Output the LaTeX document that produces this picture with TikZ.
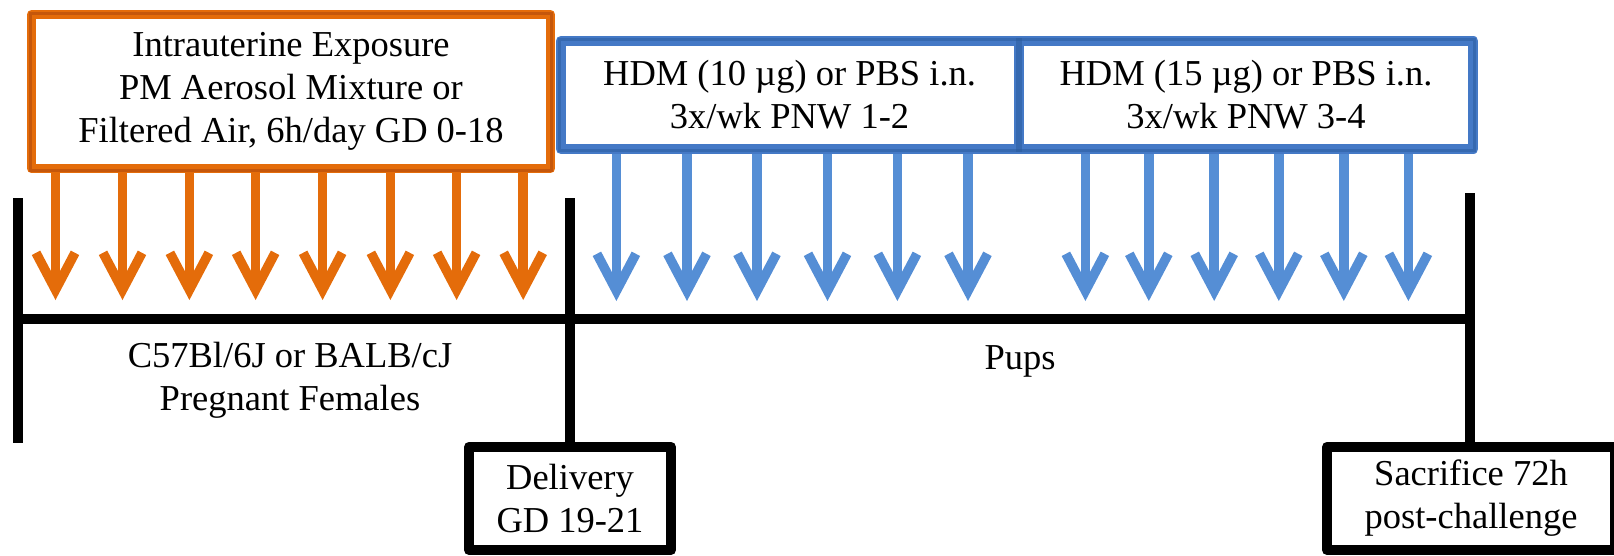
\documentclass[tikz,border=0pt]{standalone}
\usepackage{fontspec}
\setmainfont{Liberation Serif}
\newfontfamily\labelserif{Liberation Serif}
\usetikzlibrary{arrows.meta,calc,backgrounds}
\definecolor{orangeC}{HTML}{E46C0A}
\definecolor{orangeD}{HTML}{A8440C}
\definecolor{blueA}{HTML}{558ED5}
\definecolor{blueB}{HTML}{4479C6}
\definecolor{blueD}{HTML}{2A5A9C}
\begin{document}
\begin{tikzpicture}[x=1pt,y=-1pt,
  lbl/.style={font=\labelserif\fontsize{36.5}{43}\selectfont, align=center, inner sep=0pt},
  boxbase/.style={lbl, fill=white, line join=round, minimum height=108pt},
  obox/.style={boxbase, draw=orangeC, line width=9.4pt},
  bbox/.style={boxbase, draw=blueB, line width=10pt},
  kbox/.style={boxbase, draw=black, line width=10pt},
  oshade/.style={draw=orangeD, line width=3pt, opacity=0.5},
  bshade/.style={draw=blueD, line width=3pt, opacity=0.5},
  oarr/.style={draw=orangeC, line width=9.5pt, -{Straight Barb[length=37pt, width=39pt]}},
  barr/.style={draw=blueA, line width=9.5pt, -{Straight Barb[length=37pt, width=39pt]}},
  tline/.style={draw=black, line width=10pt}]
\useasboundingbox (0,0) rectangle (1614,555);

% exposure boxes
\node[obox, minimum width=518.8pt, minimum height=153.9pt] (expo) at (291,91.6)
  {Intrauterine Exposure\\PM Aerosol Mixture or\\Filtered Air, 6h/day GD 0-18};
\node[bbox, minimum width=458pt] (hdmA) at (789.6,95)
  {HDM (10 µg) or PBS i.n.\\3x/wk PNW 1-2};
\node[bbox, minimum width=454.8pt] (hdmB) at (1246,95)
  {HDM (15 µg) or PBS i.n.\\3x/wk PNW 3-4};

% darker inner rims of the coloured frames
\draw[oshade] ($(expo.north west)+(3.2,3.2)$) rectangle ($(expo.south east)+(-3.2,-3.2)$);
\draw[bshade] ($(hdmA.north west)+(3.5,3.5)$) rectangle ($(hdmA.south east)+(-3.5,-3.5)$);
\draw[bshade] ($(hdmB.north west)+(3.5,3.5)$) rectangle ($(hdmB.south east)+(-3.5,-3.5)$);

% exposure arrows, behind the boxes
\begin{scope}[on background layer]
\foreach \x [count=\i] in {55.5,122.5,189.4,255.6,322.6,390.4,456.6,523.2} {
  \coordinate (ot\i) at (\x,300);
  \draw[oarr] (ot\i |- expo.south) -- (ot\i);
}
\foreach \x [count=\i] in {616.4,687,757,827.5,897.4,968} {
  \coordinate (at\i) at (\x,301);
  \draw[barr] (at\i |- hdmA.south) -- (at\i);
}
\foreach \x [count=\i] in {1085.4,1148.8,1214.2,1278.8,1343.8,1408.4} {
  \coordinate (bt\i) at (\x,301);
  \draw[barr] (bt\i |- hdmB.south) -- (bt\i);
}
\end{scope}

% milestone boxes
\node[kbox, minimum width=202pt, minimum height=103.3pt] (deliv) at (570,498.4)
  {Delivery\\GD 19-21};
\node[kbox, minimum width=288pt, minimum height=103.3pt] (sacr) at (1471,498.4)
  {Sacrifice 72h\\post-challenge};

% timeline
\coordinate (lt) at (18,198);
\coordinate (lb) at (18,443);
\coordinate (mt) at (570,198);
\coordinate (rt) at (1470,193);
\coordinate (bl) at (13,319);
\coordinate (br) at (1470,319);
\draw[tline] (lt) -- (lb);
\draw[tline] (mt) -- (deliv.north);
\draw[tline] (rt) -- (rt |- sacr.north);
\draw[tline] (bl) -- (br);

% period labels
\node[lbl] (dams) at (290,380) {C57Bl/6J or BALB/cJ\\Pregnant Females};
\node[lbl] (pups) at (1020,361) {Pups};
\end{tikzpicture}
\end{document}
